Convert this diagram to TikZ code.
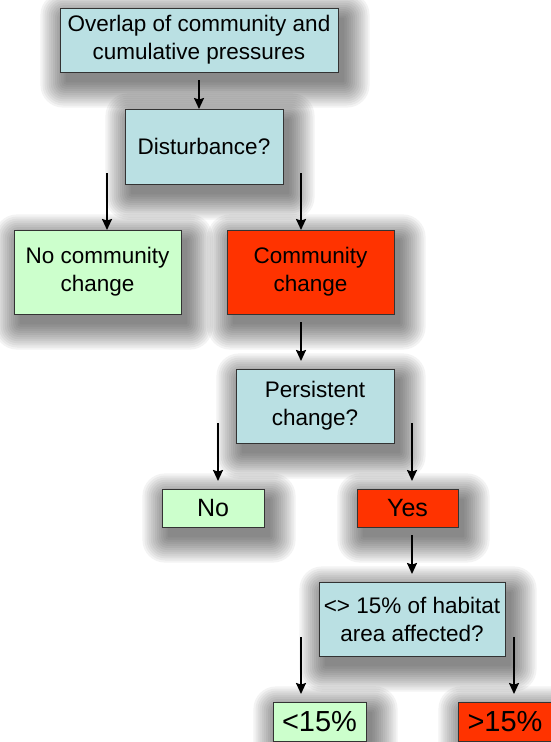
\documentclass[tikz,border=0pt]{standalone}
\usepackage{fontspec}
\setmainfont{Liberation Sans}
\definecolor{qBlue}{RGB}{186, 224, 227}
\definecolor{noGreen}{RGB}{204, 255, 204}
\definecolor{yesRed}{RGB}{255, 51, 0}
\definecolor{edgeGray}{RGB}{51, 51, 51}
\usetikzlibrary{positioning, calc, arrows.meta, backgrounds}

\begin{document}
\begin{tikzpicture}[
    x=1pt, y=1pt,
    box/.style={rectangle, draw=edgeGray, line width=0.8pt, inner sep=0pt,
                align=center, font=\fontsize{22.5}{28}\selectfont},
    quest/.style={box, fill=qBlue},
    nochg/.style={box, fill=noGreen},
    chg/.style={box, fill=yesRed},
    haze/.style={fill=black, opacity=0.048},
    arrow/.style={-{Stealth[length=11pt, width=10pt, inset=1.5pt]}, line width=1.9pt},
  ]
    \useasboundingbox (0,0) rectangle (550,-742);

    % questions
    \node[quest, minimum width=278pt, minimum height=64pt] (OVERLAP) at (199,-40)
        {Overlap of community and\\cumulative pressures};
    \node[quest, minimum width=158pt, minimum height=75pt] (DIST) at (204,-146.5) {Disturbance?};
    \node[quest, minimum width=158pt, minimum height=74pt] (PERSIST) at (315,-406)
        {Persistent\\change?};
    \node[quest, minimum width=186pt, minimum height=74pt] (AREA) at (412,-619)
        {<> 15\% of habitat\\area affected?};

    % outcomes
    \node[nochg, minimum width=167pt, minimum height=84pt] (NOCOMM) at (97.5,-272)
        {No community\\change};
    \node[chg, minimum width=167pt, minimum height=84pt] (COMM) at (310.5,-272)
        {Community\\change};
    \node[nochg, minimum width=102pt, minimum height=38pt, font=\fontsize{25}{28}\selectfont]
        (NO) at (213,-508) {No};
    \node[chg, minimum width=101pt, minimum height=38pt, font=\fontsize{25}{28}\selectfont]
        (YES) at (407.5,-508) {Yes};
    \node[nochg, minimum width=93pt, minimum height=39pt, font=\fontsize{29}{32}\selectfont]
        (LOW) at (319.5,-721.5) {<15\%};
    \node[chg, minimum width=94pt, minimum height=39pt, font=\fontsize{29}{32}\selectfont]
        (HIGH) at (505,-721.5) {>15\%};

    % soft shadows
    \begin{scope}[on background layer]
      \foreach \n in {OVERLAP,DIST,PERSIST,AREA,NOCOMM,COMM,NO,YES,LOW,HIGH}
        \foreach \k in {0,...,12}
          \fill[haze, rounded corners=\k*1.8pt+1pt]
            ($(\n.south west)+(6pt-\k*2.1pt,-10pt-\k*2.1pt)$) rectangle
            ($(\n.north east)+(6pt+\k*2.1pt,-10pt+\k*2.1pt)$);
    \end{scope}

    % arrow ends
    \coordinate (a1s) at (199,-80);
    \coordinate (a1e) at (199,-109);
    \coordinate (a2s) at (107,-173);
    \coordinate (a2e) at (107,-230);
    \coordinate (a3s) at (301,-173);
    \coordinate (a3e) at (301,-230);
    \coordinate (a4s) at (301,-322);
    \coordinate (a4e) at (301,-361);
    \coordinate (a5s) at (218,-423);
    \coordinate (a5e) at (218,-481);
    \coordinate (a6s) at (412,-423);
    \coordinate (a6e) at (412,-481);
    \coordinate (a7s) at (412,-535);
    \coordinate (a7e) at (412,-574);
    \coordinate (a8s) at (301,-637);
    \coordinate (a8e) at (301,-694);
    \coordinate (a9s) at (514,-637);
    \coordinate (a9e) at (514,-694);

    \draw[arrow] (a1s) -- (a1e);
    \draw[arrow] (a2s) -- (a2e);
    \draw[arrow] (a3s) -- (a3e);
    \draw[arrow] (a4s) -- (a4e);
    \draw[arrow] (a5s) -- (a5e);
    \draw[arrow] (a6s) -- (a6e);
    \draw[arrow] (a7s) -- (a7e);
    \draw[arrow] (a8s) -- (a8e);
    \draw[arrow] (a9s) -- (a9e);
  \end{tikzpicture}
\end{document}
